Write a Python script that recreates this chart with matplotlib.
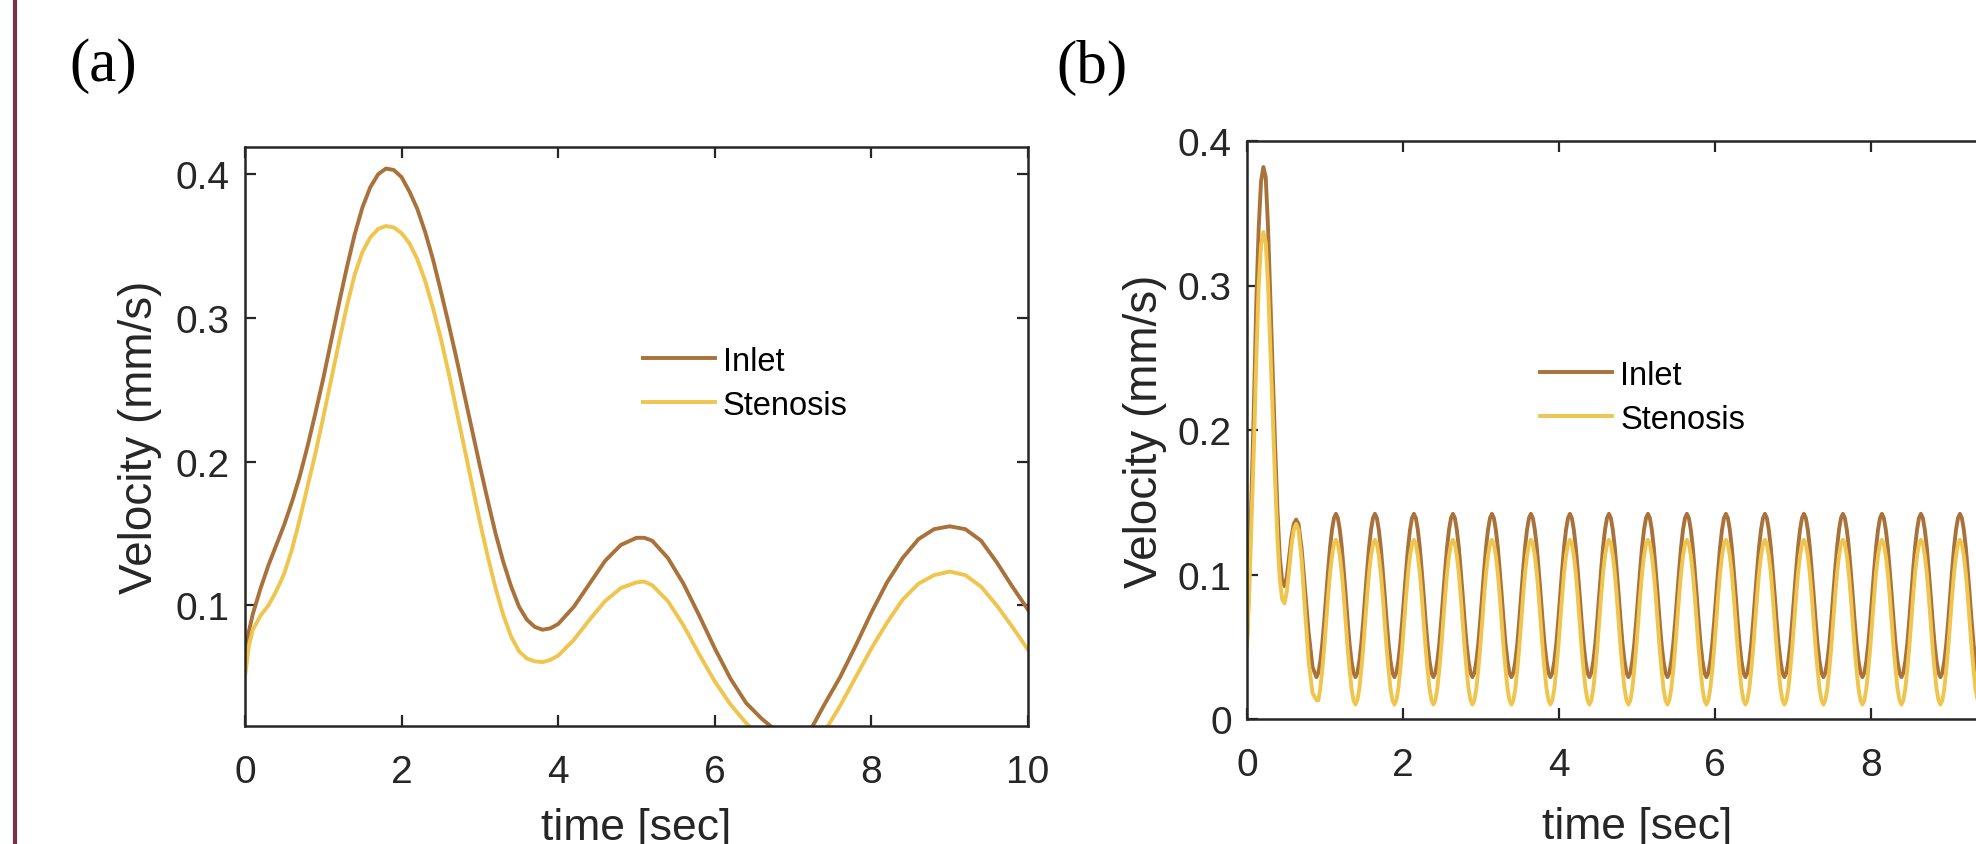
import numpy as np
import matplotlib
matplotlib.use("Agg")
import matplotlib.pyplot as plt
from matplotlib.lines import Line2D

plt.rcParams['font.family'] = ['Liberation Sans', 'DejaVu Sans']

# ---- panel (a): velocity over one period ----
t_a = [0.0, 0.05, 0.1, 0.2, 0.3, 0.4, 0.5, 0.6, 0.7, 0.8, 0.9,
       1.0, 1.1, 1.2, 1.3, 1.4, 1.5, 1.6, 1.7, 1.8, 1.9,
       2.0, 2.1, 2.2, 2.3, 2.4, 2.5, 2.6, 2.7, 2.8, 2.9,
       3.0, 3.1, 3.2, 3.3, 3.4, 3.5, 3.6, 3.7, 3.8, 3.9,
       4.0, 4.2, 4.4, 4.6, 4.8, 5.0, 5.1, 5.2, 5.4, 5.6, 5.8,
       6.0, 6.2, 6.4, 6.6, 6.8, 7.0, 7.2, 7.4, 7.6, 7.8,
       8.0, 8.2, 8.4, 8.6, 8.8, 9.0, 9.2, 9.4, 9.6, 9.8, 10.0]
inlet_a = [0.066, 0.082, 0.094, 0.112, 0.128, 0.142, 0.156, 0.172, 0.190, 0.211, 0.234,
           0.258, 0.284, 0.310, 0.335, 0.358, 0.377, 0.391, 0.400, 0.404, 0.403,
           0.398, 0.388, 0.376, 0.360, 0.341, 0.319, 0.296, 0.272, 0.247, 0.222,
           0.197, 0.173, 0.150, 0.130, 0.113, 0.099, 0.090, 0.085, 0.083, 0.084,
           0.087, 0.099, 0.115, 0.131, 0.142, 0.147, 0.147, 0.145, 0.133, 0.115, 0.093,
           0.070, 0.049, 0.032, 0.021, 0.012, 0.006, 0.011, 0.031, 0.050, 0.072,
           0.095, 0.116, 0.133, 0.146, 0.153, 0.155, 0.153, 0.145, 0.130, 0.113, 0.097]
stenosis_a = [0.050, 0.072, 0.083, 0.093, 0.100, 0.110, 0.122, 0.139, 0.160, 0.183, 0.206,
              0.231, 0.257, 0.283, 0.308, 0.330, 0.346, 0.356, 0.362, 0.364, 0.363,
              0.359, 0.352, 0.341, 0.326, 0.307, 0.286, 0.262, 0.236, 0.210, 0.184,
              0.158, 0.134, 0.112, 0.093, 0.078, 0.068, 0.063, 0.061, 0.0605, 0.062,
              0.065, 0.076, 0.090, 0.103, 0.112, 0.116, 0.1165, 0.114, 0.103, 0.086, 0.066,
              0.047, 0.031, 0.018, 0.008, 0.001, -0.002, 0.002, 0.012, 0.030, 0.050,
              0.070, 0.088, 0.104, 0.115, 0.121, 0.1235, 0.121, 0.113, 0.100, 0.085, 0.069]

# ---- panel (b): velocity over many periods ----
# start-up transient, then samples every 0.025 s from 0.915 s on (18 cycles + 4)
t_b_start = [0.0, 0.03, 0.06, 0.09, 0.12, 0.15, 0.18, 0.21, 0.24, 0.27, 0.30,
             0.33, 0.36, 0.39, 0.42, 0.45, 0.48, 0.51, 0.54, 0.57, 0.60,
             0.63, 0.66, 0.70, 0.74, 0.79, 0.84, 0.89]
t_b = np.concatenate([t_b_start, np.round(np.arange(0.915, 9.995, 0.025), 3)])

inlet_b = [
    0.052, 0.10, 0.16, 0.22, 0.29, 0.34, 0.372, 0.382, 0.375, 0.34, 0.29,
    0.24, 0.19, 0.145, 0.112, 0.096, 0.092, 0.098, 0.112, 0.126, 0.135,
    0.138, 0.135, 0.118, 0.092, 0.060, 0.036, 0.029,
    0.032, 0.040, 0.052, 0.068, 0.086, 0.103, 0.119, 0.131, 0.139, 0.142, 0.139, 0.131, 0.119, 0.103, 0.086, 0.068, 0.052, 0.040, 0.032, 0.029,  # 1
    0.032, 0.040, 0.052, 0.068, 0.086, 0.103, 0.119, 0.131, 0.139, 0.142, 0.139, 0.131, 0.119, 0.103, 0.086, 0.068, 0.052, 0.040, 0.032, 0.029,  # 2
    0.032, 0.040, 0.052, 0.068, 0.086, 0.103, 0.119, 0.131, 0.139, 0.142, 0.139, 0.131, 0.119, 0.103, 0.086, 0.068, 0.052, 0.040, 0.032, 0.029,  # 3
    0.032, 0.040, 0.052, 0.068, 0.086, 0.103, 0.119, 0.131, 0.139, 0.142, 0.139, 0.131, 0.119, 0.103, 0.086, 0.068, 0.052, 0.040, 0.032, 0.029,  # 4
    0.032, 0.040, 0.052, 0.068, 0.086, 0.103, 0.119, 0.131, 0.139, 0.142, 0.139, 0.131, 0.119, 0.103, 0.086, 0.068, 0.052, 0.040, 0.032, 0.029,  # 5
    0.032, 0.040, 0.052, 0.068, 0.086, 0.103, 0.119, 0.131, 0.139, 0.142, 0.139, 0.131, 0.119, 0.103, 0.086, 0.068, 0.052, 0.040, 0.032, 0.029,  # 6
    0.032, 0.040, 0.052, 0.068, 0.086, 0.103, 0.119, 0.131, 0.139, 0.142, 0.139, 0.131, 0.119, 0.103, 0.086, 0.068, 0.052, 0.040, 0.032, 0.029,  # 7
    0.032, 0.040, 0.052, 0.068, 0.086, 0.103, 0.119, 0.131, 0.139, 0.142, 0.139, 0.131, 0.119, 0.103, 0.086, 0.068, 0.052, 0.040, 0.032, 0.029,  # 8
    0.032, 0.040, 0.052, 0.068, 0.086, 0.103, 0.119, 0.131, 0.139, 0.142, 0.139, 0.131, 0.119, 0.103, 0.086, 0.068, 0.052, 0.040, 0.032, 0.029,  # 9
    0.032, 0.040, 0.052, 0.068, 0.086, 0.103, 0.119, 0.131, 0.139, 0.142, 0.139, 0.131, 0.119, 0.103, 0.086, 0.068, 0.052, 0.040, 0.032, 0.029,  # 10
    0.032, 0.040, 0.052, 0.068, 0.086, 0.103, 0.119, 0.131, 0.139, 0.142, 0.139, 0.131, 0.119, 0.103, 0.086, 0.068, 0.052, 0.040, 0.032, 0.029,  # 11
    0.032, 0.040, 0.052, 0.068, 0.086, 0.103, 0.119, 0.131, 0.139, 0.142, 0.139, 0.131, 0.119, 0.103, 0.086, 0.068, 0.052, 0.040, 0.032, 0.029,  # 12
    0.032, 0.040, 0.052, 0.068, 0.086, 0.103, 0.119, 0.131, 0.139, 0.142, 0.139, 0.131, 0.119, 0.103, 0.086, 0.068, 0.052, 0.040, 0.032, 0.029,  # 13
    0.032, 0.040, 0.052, 0.068, 0.086, 0.103, 0.119, 0.131, 0.139, 0.142, 0.139, 0.131, 0.119, 0.103, 0.086, 0.068, 0.052, 0.040, 0.032, 0.029,  # 14
    0.032, 0.040, 0.052, 0.068, 0.086, 0.103, 0.119, 0.131, 0.139, 0.142, 0.139, 0.131, 0.119, 0.103, 0.086, 0.068, 0.052, 0.040, 0.032, 0.029,  # 15
    0.032, 0.040, 0.052, 0.068, 0.086, 0.103, 0.119, 0.131, 0.139, 0.142, 0.139, 0.131, 0.119, 0.103, 0.086, 0.068, 0.052, 0.040, 0.032, 0.029,  # 16
    0.032, 0.040, 0.052, 0.068, 0.086, 0.103, 0.119, 0.131, 0.139, 0.142, 0.139, 0.131, 0.119, 0.103, 0.086, 0.068, 0.052, 0.040, 0.032, 0.029,  # 17
    0.032, 0.040, 0.052, 0.068, 0.086, 0.103, 0.119, 0.131, 0.139, 0.142, 0.139, 0.131, 0.119, 0.103, 0.086, 0.068, 0.052, 0.040, 0.032, 0.029,  # 18
    0.032, 0.040, 0.052, 0.068]
stenosis_b = [
    0.050, 0.09, 0.14, 0.19, 0.25, 0.30, 0.328, 0.337, 0.330, 0.30, 0.255,
    0.21, 0.165, 0.125, 0.097, 0.083, 0.080, 0.088, 0.103, 0.120, 0.131,
    0.135, 0.131, 0.110, 0.078, 0.040, 0.018, 0.013,
    0.013, 0.021, 0.034, 0.049, 0.067, 0.085, 0.101, 0.113, 0.121, 0.124, 0.121, 0.113, 0.101, 0.085, 0.067, 0.049, 0.034, 0.021, 0.013, 0.010,  # 1
    0.013, 0.021, 0.034, 0.049, 0.067, 0.085, 0.101, 0.113, 0.121, 0.124, 0.121, 0.113, 0.101, 0.085, 0.067, 0.049, 0.034, 0.021, 0.013, 0.010,  # 2
    0.013, 0.021, 0.034, 0.049, 0.067, 0.085, 0.101, 0.113, 0.121, 0.124, 0.121, 0.113, 0.101, 0.085, 0.067, 0.049, 0.034, 0.021, 0.013, 0.010,  # 3
    0.013, 0.021, 0.034, 0.049, 0.067, 0.085, 0.101, 0.113, 0.121, 0.124, 0.121, 0.113, 0.101, 0.085, 0.067, 0.049, 0.034, 0.021, 0.013, 0.010,  # 4
    0.013, 0.021, 0.034, 0.049, 0.067, 0.085, 0.101, 0.113, 0.121, 0.124, 0.121, 0.113, 0.101, 0.085, 0.067, 0.049, 0.034, 0.021, 0.013, 0.010,  # 5
    0.013, 0.021, 0.034, 0.049, 0.067, 0.085, 0.101, 0.113, 0.121, 0.124, 0.121, 0.113, 0.101, 0.085, 0.067, 0.049, 0.034, 0.021, 0.013, 0.010,  # 6
    0.013, 0.021, 0.034, 0.049, 0.067, 0.085, 0.101, 0.113, 0.121, 0.124, 0.121, 0.113, 0.101, 0.085, 0.067, 0.049, 0.034, 0.021, 0.013, 0.010,  # 7
    0.013, 0.021, 0.034, 0.049, 0.067, 0.085, 0.101, 0.113, 0.121, 0.124, 0.121, 0.113, 0.101, 0.085, 0.067, 0.049, 0.034, 0.021, 0.013, 0.010,  # 8
    0.013, 0.021, 0.034, 0.049, 0.067, 0.085, 0.101, 0.113, 0.121, 0.124, 0.121, 0.113, 0.101, 0.085, 0.067, 0.049, 0.034, 0.021, 0.013, 0.010,  # 9
    0.013, 0.021, 0.034, 0.049, 0.067, 0.085, 0.101, 0.113, 0.121, 0.124, 0.121, 0.113, 0.101, 0.085, 0.067, 0.049, 0.034, 0.021, 0.013, 0.010,  # 10
    0.013, 0.021, 0.034, 0.049, 0.067, 0.085, 0.101, 0.113, 0.121, 0.124, 0.121, 0.113, 0.101, 0.085, 0.067, 0.049, 0.034, 0.021, 0.013, 0.010,  # 11
    0.013, 0.021, 0.034, 0.049, 0.067, 0.085, 0.101, 0.113, 0.121, 0.124, 0.121, 0.113, 0.101, 0.085, 0.067, 0.049, 0.034, 0.021, 0.013, 0.010,  # 12
    0.013, 0.021, 0.034, 0.049, 0.067, 0.085, 0.101, 0.113, 0.121, 0.124, 0.121, 0.113, 0.101, 0.085, 0.067, 0.049, 0.034, 0.021, 0.013, 0.010,  # 13
    0.013, 0.021, 0.034, 0.049, 0.067, 0.085, 0.101, 0.113, 0.121, 0.124, 0.121, 0.113, 0.101, 0.085, 0.067, 0.049, 0.034, 0.021, 0.013, 0.010,  # 14
    0.013, 0.021, 0.034, 0.049, 0.067, 0.085, 0.101, 0.113, 0.121, 0.124, 0.121, 0.113, 0.101, 0.085, 0.067, 0.049, 0.034, 0.021, 0.013, 0.010,  # 15
    0.013, 0.021, 0.034, 0.049, 0.067, 0.085, 0.101, 0.113, 0.121, 0.124, 0.121, 0.113, 0.101, 0.085, 0.067, 0.049, 0.034, 0.021, 0.013, 0.010,  # 16
    0.013, 0.021, 0.034, 0.049, 0.067, 0.085, 0.101, 0.113, 0.121, 0.124, 0.121, 0.113, 0.101, 0.085, 0.067, 0.049, 0.034, 0.021, 0.013, 0.010,  # 17
    0.013, 0.021, 0.034, 0.049, 0.067, 0.085, 0.101, 0.113, 0.121, 0.124, 0.121, 0.113, 0.101, 0.085, 0.067, 0.049, 0.034, 0.021, 0.013, 0.010,  # 18
    0.013, 0.021, 0.034, 0.049]

x_ticks_a = [0, 2, 4, 6, 8, 10]
x_ticks_b = [0, 2, 4, 6, 8]
y_ticks_a = [0.1, 0.2, 0.3, 0.4]
y_ticks_b = [0, 0.1, 0.2, 0.3, 0.4]

c_inlet = '#A8723A'
c_sten = '#F0C54E'
dark = '#262626'

W, H = 1976, 845
fig = plt.figure(figsize=(W / 100, H / 100), dpi=100)


def style(ax, xticks, yticks, ylim):
    ax.set_xlim(0, 10)
    ax.set_ylim(*ylim)
    ax.set_xticks(xticks)
    ax.set_yticks(yticks)
    ax.set_yticklabels([('%g' % v) for v in yticks])
    ax.tick_params(direction='in', top=True, right=True, length=8, width=1.6,
                   labelsize=28, colors=dark)
    ax.tick_params(axis='x', pad=20)
    ax.tick_params(axis='y', pad=11)
    for s in ax.spines.values():
        s.set_linewidth(1.8)
        s.set_color(dark)


leg_kw = dict(loc='center left', frameon=False, fontsize=23.5, handlelength=2.2,
              handletextpad=0.25, labelspacing=0.4, borderpad=0, borderaxespad=0)

# panel (a)
ax1 = fig.add_axes([245 / W, (H - 727) / H, 783 / W, 579 / H])
ax1.plot(t_a, inlet_a, color=c_inlet, lw=2.8, label='Inlet')
ax1.plot(t_a, stenosis_a, color=c_sten, lw=2.8, label='Stenosis')
style(ax1, x_ticks_a, y_ticks_a, (0.016, 0.419))
ax1.set_xlabel('time [sec]', fontsize=32, color=dark)
ax1.xaxis.set_label_coords(0.5, -0.14)
ax1.set_ylabel('Velocity (mm/s)', fontsize=33, color=dark, va='center')
ax1.yaxis.set_label_coords(-0.134, 0.5)
ax1.legend(bbox_to_anchor=(0.508, 0.592), **leg_kw)

# panel (b) -- runs past the right edge of the figure
ax2 = fig.add_axes([1247 / W, (H - 720) / H, 780 / W, 578 / H])
ax2.plot(t_b, inlet_b, color=c_inlet, lw=2.8, label='Inlet')
ax2.plot(t_b, stenosis_b, color=c_sten, lw=2.8, label='Stenosis')
style(ax2, x_ticks_b, y_ticks_b, (0, 0.4))
ax2.set_xlabel('time [sec]', fontsize=32, color=dark)
ax2.xaxis.set_label_coords(0.5, -0.15)
ax2.set_ylabel('Velocity (mm/s)', fontsize=33, color=dark, va='center')
ax2.yaxis.set_label_coords(-0.131, 0.5)
ax2.legend(bbox_to_anchor=(0.376, 0.557), **leg_kw)

# panel letters
fig.text(103 / W, 1 - 66 / H, '(a)', fontsize=44, family='Liberation Serif',
         ha='center', va='center', color='black')
fig.text(1092 / W, 1 - 68 / H, '(b)', fontsize=44, family='Liberation Serif',
         ha='center', va='center', color='black')

# thin maroon rule down the left edge
fig.add_artist(Line2D([15 / W, 15 / W], [0, 1], color='#7A2E48', lw=3))

fig.savefig('out.png', dpi=100)
